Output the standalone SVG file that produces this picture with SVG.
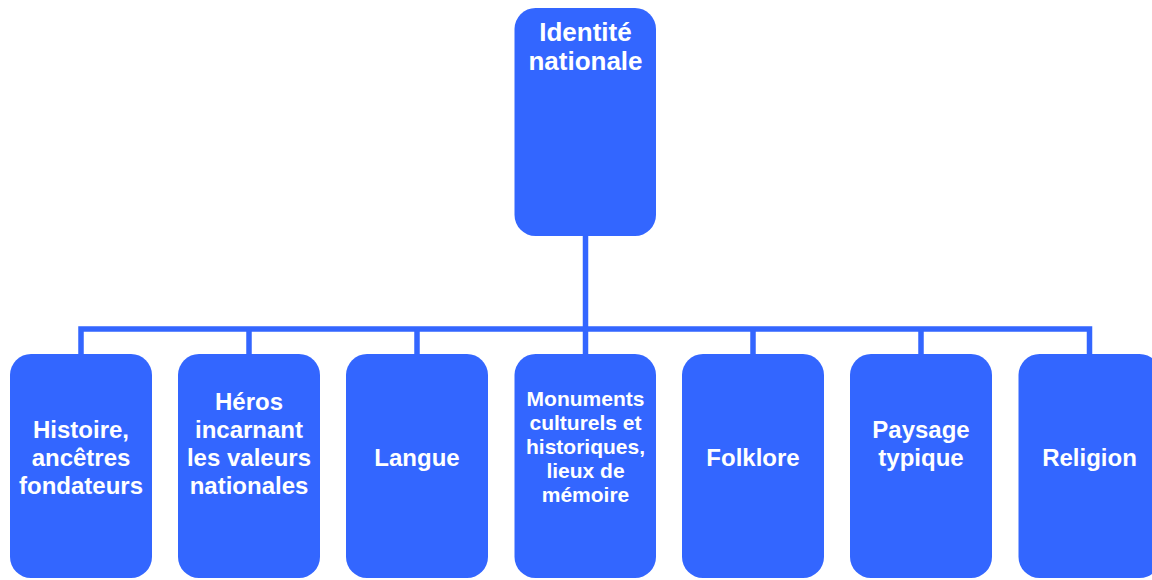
<svg xmlns="http://www.w3.org/2000/svg" width="1152" height="580" viewBox="0 0 1152 580">
<style>
.box{fill:#3366FF;}
.t{font-family:"Liberation Sans",Arial,Helvetica,sans-serif;font-weight:bold;fill:#FFFFFF;text-anchor:middle;}
.top{font-size:26px;}
.lbl{font-size:24px;}
.sm{font-size:21px;}
.conn{fill:none;stroke:#3366FF;stroke-width:5.5;}
</style>
<rect width="1152" height="580" fill="#FFFFFF"/>
<g id="connectors">
<path class="conn" d="M585.5,236 V329"/>
<path class="conn" d="M81,354 V329 H1089.5 V354"/>
<path class="conn" d="M249,329 V354"/>
<path class="conn" d="M417,329 V354"/>
<path class="conn" d="M585.5,329 V354"/>
<path class="conn" d="M753,329 V354"/>
<path class="conn" d="M921,329 V354"/>
</g>
<g id="identite">
<rect class="box" x="514.5" y="8" width="141.5" height="228" rx="21"/>
<text class="t top" x="585.5" y="40.5">Identité</text>
<text class="t top" x="585.5" y="69.5">nationale</text>
</g>
<g id="histoire">
<rect class="box" x="10" y="354" width="142" height="224" rx="21"/>
<text class="t lbl" x="81" y="437.7">Histoire,</text>
<text class="t lbl" x="81" y="465.7">ancêtres</text>
<text class="t lbl" x="81" y="493.5">fondateurs</text>
</g>
<g id="heros">
<rect class="box" x="178" y="354" width="142" height="224" rx="21"/>
<text class="t lbl" x="249" y="409.7">Héros</text>
<text class="t lbl" x="249" y="437.7">incarnant</text>
<text class="t lbl" x="249" y="465.7">les valeurs</text>
<text class="t lbl" x="249" y="493.5">nationales</text>
</g>
<g id="langue">
<rect class="box" x="346" y="354" width="142" height="224" rx="21"/>
<text class="t lbl" x="417" y="465.7">Langue</text>
</g>
<g id="monuments">
<rect class="box" x="514.5" y="354" width="141.5" height="224" rx="21"/>
<text class="t sm" x="585.5" y="406">Monuments</text>
<text class="t sm" x="585.5" y="430">culturels et</text>
<text class="t sm" x="585.5" y="454">historiques,</text>
<text class="t sm" x="585.5" y="478">lieux de</text>
<text class="t sm" x="585.5" y="502">mémoire</text>
</g>
<g id="folklore">
<rect class="box" x="682" y="354" width="142" height="224" rx="21"/>
<text class="t lbl" x="753" y="465.7">Folklore</text>
</g>
<g id="paysage">
<rect class="box" x="850" y="354" width="142" height="224" rx="21"/>
<text class="t lbl" x="921" y="437.7">Paysage</text>
<text class="t lbl" x="921" y="465.7">typique</text>
</g>
<g id="religion">
<rect class="box" x="1018.5" y="354" width="142" height="224" rx="21"/>
<text class="t lbl" x="1089.5" y="465.7">Religion</text>
</g>
</svg>
